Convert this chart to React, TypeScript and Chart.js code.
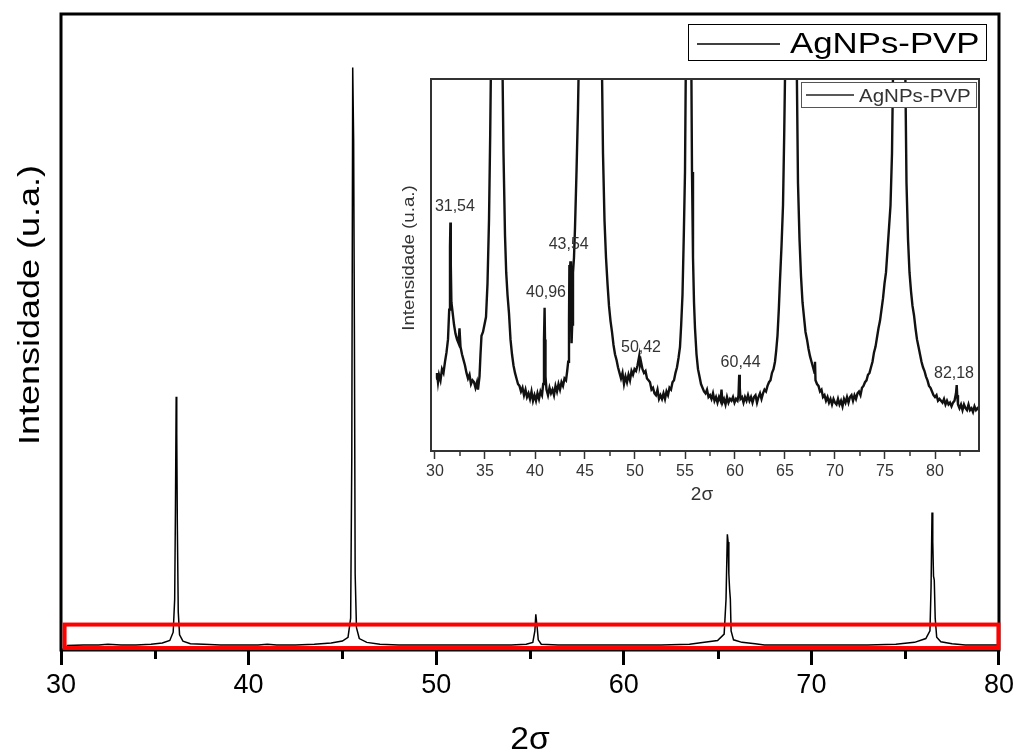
import React, { useEffect, useRef } from "react";
import { Chart, registerables } from "chart.js";

Chart.register(...registerables);

const FONT = '"Liberation Sans", Arial, Helvetica, sans-serif';

// ---------- main pattern ----------
const seriesName = "AgNPs-PVP";
const xTitle = "2σ";
const yTitle = "Intensidade (u.a.)";

const mainTwoTheta = [
  30.3, 31.2, 32.0, 32.5, 33.2, 34.0, 34.8, 35.4, 35.8, 35.98, 36.06, 36.1, 36.14, 36.17, 36.2, 36.25,
  36.32, 36.5, 36.9, 37.6, 38.5, 39.5, 40.5, 41.0, 41.5, 42.5, 43.5, 44.4, 45.0, 45.3, 45.44, 45.5,
  45.55, 45.6, 45.64, 45.68, 45.75, 45.9, 46.3, 47.0, 48.0, 49.0, 50.0, 51.0, 52.0, 53.0, 54.0, 54.8,
  55.15, 55.26, 55.31, 55.35, 55.39, 55.44, 55.6, 56.5, 58.0, 60.0, 62.0, 63.5, 64.3, 65.0, 65.35,
  65.45, 65.52, 65.56, 65.6, 65.64, 65.68, 65.72, 65.85, 66.3, 67.0, 67.5, 69.0, 71.0, 73.0, 74.5,
  75.5, 76.1, 76.32, 76.38, 76.43, 76.47, 76.51, 76.55, 76.6, 76.68, 76.9, 77.5, 78.2, 79.5, 80.0,
];
const mainIntensity = [
  0.7, 0.8, 0.8, 0.9, 0.8, 0.8, 0.9, 1.1, 1.5, 2.8, 8, 22, 39.8, 34, 20, 6,
  2.4, 1.4, 1.0, 0.9, 0.8, 0.8, 0.8, 0.9, 0.8, 0.8, 0.9, 1.1, 1.4, 2.0, 5, 30,
  91.6, 80, 50, 12, 3.5, 1.8, 1.2, 0.9, 0.8, 0.8, 0.8, 0.8, 0.8, 0.8, 0.8, 0.9,
  1.2, 3.0, 5.6, 4.4, 3.3, 1.6, 0.9, 0.8, 0.8, 0.8, 0.8, 0.9, 1.2, 1.5, 2.5,
  8, 18.2, 17, 12, 9.6, 8, 3, 1.6, 1.2, 1.0, 0.8, 0.8, 0.8, 0.8, 0.9,
  1.2, 1.8, 3, 10, 21.6, 17, 11.6, 11, 5, 2, 1.3, 1.0, 0.8, 0.8, 0.8,
];
const mainMajorTicks = [30, 40, 50, 60, 70, 80];
const mainMinorTicks = [35, 45, 55, 65, 75];
const zoomBoxX = [30.19, 79.97];
const zoomBoxY = [0.31, 4.0];

// ---------- inset pattern ----------
const insetTwoTheta = [
  30.1, 30.2, 30.3, 30.4, 30.55, 30.7, 30.85, 31.0, 31.15, 31.3, 31.42, 31.5, 31.54, 31.58, 31.64, 31.75,
  31.9, 32.05, 32.2, 32.35, 32.45, 32.55, 32.7, 32.85, 33.0, 33.15, 33.3, 33.45, 33.6, 33.75, 33.9, 34.05,
  34.2, 34.3, 34.45, 34.55, 34.65, 34.8, 34.95, 35.1, 35.25, 35.4, 35.52, 35.62, 36.2, 36.72, 36.85, 37.0,
  37.12, 37.25, 37.4, 37.55, 37.7, 37.85, 38.0, 38.15, 38.3, 38.45, 38.6, 38.75, 38.9, 39.05, 39.2, 39.35,
  39.5, 39.65, 39.8, 39.95, 40.1, 40.25, 40.4, 40.55, 40.7, 40.82, 40.9, 40.96, 41.0, 41.05, 41.15, 41.3,
  41.45, 41.6, 41.75, 41.9, 42.05, 42.2, 42.35, 42.5, 42.65, 42.8, 42.95, 43.1, 43.22, 43.32, 43.4, 43.44,
  43.5, 43.54, 43.6, 43.66, 43.72, 43.8, 43.9, 44.0, 44.15, 44.3, 44.45, 45.5, 46.64, 46.8, 46.95, 47.1,
  47.25, 47.4, 47.55, 47.7, 47.85, 48.0, 48.15, 48.3, 48.45, 48.6, 48.75, 48.9, 49.05, 49.2, 49.35, 49.5,
  49.65, 49.8, 49.95, 50.1, 50.25, 50.35, 50.42, 50.5, 50.6, 50.75, 50.9, 51.05, 51.2, 51.35, 51.5, 51.65,
  51.8, 51.95, 52.1, 52.25, 52.4, 52.55, 52.7, 52.85, 53.0, 53.15, 53.3, 53.45, 53.6, 53.75, 53.9, 54.05,
  54.2, 54.35, 54.5, 54.62, 54.75, 54.88, 55.0, 55.1, 55.35, 55.62, 55.7, 55.8, 55.9, 56.0, 56.15, 56.3,
  56.45, 56.6, 56.75, 56.9, 57.05, 57.2, 57.35, 57.5, 57.65, 57.8, 57.95, 58.1, 58.25, 58.4, 58.55, 58.65,
  58.75, 58.9, 59.05, 59.2, 59.35, 59.5, 59.65, 59.8, 59.95, 60.1, 60.25, 60.35, 60.42, 60.48, 60.55, 60.7,
  60.85, 61.0, 61.15, 61.3, 61.45, 61.6, 61.75, 61.9, 62.05, 62.2, 62.35, 62.5, 62.65, 62.8, 62.95, 63.1,
  63.25, 63.4, 63.55, 63.7, 63.85, 64.0, 64.12, 64.25, 64.38, 64.5, 64.65, 64.8, 64.92, 65.05, 65.6, 66.15,
  66.3, 66.45, 66.6, 66.75, 66.9, 67.05, 67.2, 67.35, 67.5, 67.65, 67.8, 67.95, 68.0, 68.05, 68.2, 68.35,
  68.5, 68.65, 68.8, 68.95, 69.1, 69.25, 69.4, 69.55, 69.7, 69.85, 70.0, 70.15, 70.3, 70.45, 70.6, 70.75,
  70.9, 71.05, 71.2, 71.35, 71.5, 71.65, 71.8, 71.95, 72.1, 72.25, 72.4, 72.55, 72.7, 72.85, 73.0, 73.15,
  73.3, 73.45, 73.6, 73.75, 73.9, 74.05, 74.2, 74.35, 74.5, 74.65, 74.8, 74.95, 75.1, 75.25, 75.4, 75.55,
  75.7, 75.84, 76.4, 77.0, 77.15, 77.3, 77.45, 77.6, 77.75, 77.9, 78.05, 78.2, 78.35, 78.5, 78.65, 78.8,
  78.95, 79.1, 79.25, 79.4, 79.55, 79.7, 79.85, 80.0, 80.15, 80.3, 80.45, 80.6, 80.75, 80.9, 81.05, 81.2,
  81.35, 81.5, 81.65, 81.8, 81.95, 82.1, 82.17, 82.22, 82.3, 82.45, 82.6, 82.75, 82.9, 83.05, 83.2, 83.35,
  83.5, 83.65, 83.8, 83.95, 84.1, 84.25, 84.4,
];
const insetIntensity = [
  19.5, 21.0, 18.5, 20.5, 19.0, 22.0, 21.0, 24.0, 26.5, 30.0, 38.0, 55.0, 61.4, 50.0, 40.0, 37.5,
  34.0, 31.5, 30.0, 29.0, 33.0, 28.0, 26.0, 24.5, 23.0, 21.0, 19.5, 20.5, 18.0, 19.0, 18.5, 17.0,
  18.5, 16.5, 20.0, 26.0, 31.0, 32.0, 34.0, 36.0, 45.0, 62.0, 85.0, 110, 400, 110, 80, 58,
  48, 42, 37.0, 30.0, 26.0, 23.0, 21.0, 19.5, 18.0, 17.5, 16.0, 17.0, 15.0, 16.5, 14.5, 15.5,
  14.0, 16.0, 13.5, 15.0, 13.5, 15.5, 14.0, 16.0, 15.0, 18.0, 30.0, 38.5, 30.0, 20.0, 16.5, 15.0,
  17.0, 15.5, 16.5, 15.0, 17.5, 16.0, 18.0, 16.5, 18.5, 17.5, 19.5, 19.0, 21.5, 24.0, 35.0, 50.0,
  48.0, 51.0, 40.0, 29.0, 34.0, 48.0, 52.0, 60.0, 75.0, 92.0, 115, 500, 115, 80, 62, 52,
  45, 39, 35, 32, 28.5, 26.0, 24.5, 22.5, 21.0, 19.5, 21.0, 18.0, 20.0, 18.5, 20.5, 19.0,
  21.5, 20.5, 22.0, 21.5, 23.0, 24.5, 25.5, 23.0, 24.0, 22.0, 21.0, 21.5, 19.5, 19.0, 18.5, 16.5,
  17.0, 15.5, 15.0, 16.5, 14.0, 15.0, 14.0, 15.5, 14.0, 16.0, 15.0, 17.0, 16.5, 18.5, 19.0, 21.0,
  22.5, 25.0, 28.0, 34.0, 42.0, 58.0, 75.0, 110, 400, 110, 75.0, 52.0, 40.0, 33.0, 26.0, 22.0,
  20.0, 18.0, 17.0, 16.0, 15.5, 16.5, 14.5, 15.0, 14.0, 15.5, 13.5, 14.5, 13.0, 14.5, 13.5, 16.5,
  13.0, 14.0, 12.5, 14.5, 13.0, 14.0, 13.5, 14.5, 13.0, 14.0, 13.5, 15.0, 20.5, 17.0, 14.0, 14.5,
  13.0, 14.5, 13.5, 15.0, 13.5, 14.5, 13.0, 14.5, 15.0, 13.0, 14.5, 15.5, 14.0, 15.5, 16.5, 16.0,
  17.5, 18.5, 19.0, 21.0, 22.0, 24.0, 27.0, 31.0, 38.0, 46.0, 55.0, 66.0, 85.0, 110, 400, 110,
  72, 57, 47, 40, 36, 32, 30, 27.5, 25.5, 24.0, 22.5, 21.0, 24.0, 19.0, 18.0, 17.5,
  16.0, 16.5, 14.5, 15.0, 13.5, 14.5, 13.0, 14.0, 12.5, 14.0, 13.0, 12.5, 14.0, 12.5, 13.5, 12.0,
  14.0, 13.0, 14.5, 13.0, 14.5, 15.0, 13.5, 15.0, 14.0, 15.5, 16.0, 15.0, 17.0, 17.5, 18.5, 19.0,
  20.5, 21.0, 22.5, 24.0, 26.5, 28.0, 30.5, 33.0, 35.0, 38.0, 41.0, 45.0, 48.0, 54.0, 60.0, 66.0,
  80.0, 110, 400, 110, 72, 57, 48, 43, 39, 36.5, 33.0, 30.0, 28.0, 26.0, 24.0, 22.5,
  21.5, 20.0, 19.0, 17.5, 17.0, 16.0, 15.0, 14.5, 15.0, 13.5, 14.0, 13.5, 13.0, 14.0, 12.5, 13.5,
  12.5, 13.0, 12.0, 13.0, 13.5, 15.5, 17.7, 15.0, 12.5, 11.5, 12.5, 11.0, 12.5, 11.5, 11.0, 12.5,
  11.0, 11.5, 10.5, 12.0, 11.0, 11.5, 11.0,
];
const insetMinorTicks = [32.5, 37.5, 42.5, 47.5, 52.5, 57.5, 62.5, 67.5, 72.5, 77.5, 82.5];
const peakLabels = ["31,54", "40,96", "43,54", "50,42", "60,44", "82,18"];
const peakLabelX = [31.99, 41.1, 43.37, 50.6, 60.56, 81.9];
const peakLabelY = [64.5, 41.4, 54.2, 26.6, 22.7, 19.7];

function stretchedText(
  ctx: CanvasRenderingContext2D,
  text: string,
  x: number,
  y: number,
  size: number,
  sx: number,
  align: CanvasTextAlign,
  rot = 0,
  color = "#000"
) {
  ctx.save();
  ctx.translate(x, y);
  if (rot) ctx.rotate(rot);
  ctx.scale(sx, 1);
  ctx.font = `${size}px ${FONT}`;
  ctx.fillStyle = color;
  ctx.textAlign = align;
  ctx.textBaseline = "alphabetic";
  ctx.fillText(text, 0, 0);
  ctx.restore();
}

const mainDecor = {
  id: "mainDecor",
  afterDraw(chart: any) {
    const { ctx, chartArea, scales } = chart;
    const { left, right, top, bottom } = chartArea;
    const x = scales.x;
    const y = scales.y;
    ctx.save();
    ctx.strokeStyle = "#000";
    ctx.lineWidth = 3;
    ctx.strokeRect(left, top, right - left, bottom - top);
    for (const v of mainMinorTicks) {
      const px = Math.round(x.getPixelForValue(v)) + 0.5;
      ctx.beginPath();
      ctx.moveTo(px, bottom);
      ctx.lineTo(px, bottom + 9);
      ctx.stroke();
    }
    // red highlight box
    const bx0 = x.getPixelForValue(zoomBoxX[0]);
    const bx1 = x.getPixelForValue(zoomBoxX[1]);
    const by0 = y.getPixelForValue(zoomBoxY[1]);
    const by1 = y.getPixelForValue(zoomBoxY[0]);
    ctx.strokeStyle = "#ff0000";
    ctx.lineWidth = 4;
    ctx.strokeRect(bx0, by0, bx1 - bx0, by1 - by0);
    // legend
    ctx.strokeStyle = "#000";
    ctx.lineWidth = 1;
    ctx.strokeRect(688.5, 24.5, 298, 36);
    ctx.lineWidth = 1.5;
    ctx.beginPath();
    ctx.moveTo(697, 44);
    ctx.lineTo(780, 44);
    ctx.stroke();
    stretchedText(ctx, seriesName, 790, 53, 29, 1.2, "left");
    // axis titles
    stretchedText(ctx, yTitle, 39, 305, 30, 1.2, "center", -Math.PI / 2);
    stretchedText(ctx, xTitle, (left + right) / 2, 749, 32, 1.05, "center");
    ctx.restore();
  },
};

const insetDecor = {
  id: "insetDecor",
  afterDraw(chart: any) {
    const { ctx, chartArea, scales } = chart;
    const { left, right, top, bottom } = chartArea;
    const x = scales.x;
    const y = scales.y;
    ctx.save();
    ctx.strokeStyle = "#333";
    ctx.lineWidth = 2;
    ctx.strokeRect(left, top, right - left, bottom - top);
    ctx.lineWidth = 1.5;
    for (const v of insetMinorTicks) {
      const px = x.getPixelForValue(v);
      ctx.beginPath();
      ctx.moveTo(px, bottom);
      ctx.lineTo(px, bottom + 5);
      ctx.stroke();
    }
    peakLabels.forEach((t, i) => {
      stretchedText(ctx, t, x.getPixelForValue(peakLabelX[i]), y.getPixelForValue(peakLabelY[i]), 16, 1, "center", 0, "#333");
    });
    // legend
    ctx.fillStyle = "#fff";
    ctx.fillRect(411, 12, 175, 25);
    ctx.strokeStyle = "#555";
    ctx.lineWidth = 1;
    ctx.strokeRect(411.5, 12.5, 175, 25);
    ctx.strokeStyle = "#222";
    ctx.lineWidth = 1.5;
    ctx.beginPath();
    ctx.moveTo(416, 25);
    ctx.lineTo(464, 25);
    ctx.stroke();
    stretchedText(ctx, seriesName, 469, 32, 19, 1.08, "left", 0, "#333");
    // titles
    stretchedText(ctx, yTitle, 24, 188, 17, 1.1, "center", -Math.PI / 2, "#333");
    stretchedText(ctx, xTitle, 312, 430, 19, 1, "center", 0, "#333");
    ctx.restore();
  },
};

export default function App() {
  const mainRef = useRef<HTMLCanvasElement>(null);
  const insetRef = useRef<HTMLCanvasElement>(null);

  useEffect(() => {
    document.body.style.margin = "0";
    const main = new Chart(mainRef.current as HTMLCanvasElement, {
      type: "line",
      data: {
        datasets: [
          {
            label: seriesName,
            data: mainTwoTheta.map((v, i) => ({ x: v, y: mainIntensity[i] })),
            borderColor: "#000",
            borderWidth: 1.5,
            pointRadius: 0,
            tension: 0,
            clip: 0,
          },
        ],
      },
      options: {
        animation: false,
        responsive: false,
        events: [],
        layout: { padding: { top: 14, right: 18, left: 0, bottom: 0 } },
        plugins: { legend: { display: false }, tooltip: { enabled: false } },
        scales: {
          x: {
            type: "linear",
            min: 30,
            max: 80,
            afterFit: (s: any) => {
              s.height = 101;
            },
            border: { display: false },
            grid: { drawOnChartArea: false, drawTicks: true, tickLength: 15, tickWidth: 3, tickColor: "#000" },
            ticks: {
              stepSize: 10,
              padding: 4,
              color: "#000",
              font: { family: FONT, size: 27 },
              maxRotation: 0,
              autoSkip: false,
              includeBounds: false,
              callback: (v: any) => (mainMajorTicks.includes(Number(v)) ? String(v) : ""),
            },
          },
          y: {
            type: "linear",
            min: 0,
            max: 100,
            afterFit: (s: any) => {
              s.width = 61;
            },
            border: { display: false },
            grid: { display: false },
            ticks: { display: false },
          },
        },
      },
      plugins: [mainDecor],
    } as any);

    const inset = new Chart(insetRef.current as HTMLCanvasElement, {
      type: "line",
      data: {
        datasets: [
          {
            label: seriesName,
            data: insetTwoTheta.map((v, i) => ({ x: v, y: insetIntensity[i] })),
            borderColor: "#111",
            borderWidth: 2.4,
            pointRadius: 0,
            tension: 0,
            clip: 0,
          },
        ],
      },
      options: {
        animation: false,
        responsive: false,
        events: [],
        layout: { padding: { top: 9, right: 11, left: 0, bottom: 0 } },
        plugins: { legend: { display: false }, tooltip: { enabled: false } },
        scales: {
          x: {
            type: "linear",
            min: 29.6,
            max: 84.4,
            afterFit: (s: any) => {
              s.height = 64;
            },
            border: { display: false },
            grid: { drawOnChartArea: false, drawTicks: true, tickLength: 8, tickWidth: 1.5, tickColor: "#333" },
            ticks: {
              stepSize: 5,
              padding: 3,
              color: "#333",
              font: { family: FONT, size: 16 },
              maxRotation: 0,
              autoSkip: false,
              includeBounds: false,
            },
          },
          y: {
            type: "linear",
            min: 0,
            max: 100,
            afterFit: (s: any) => {
              s.width = 41;
            },
            border: { display: false },
            grid: { display: false },
            ticks: { display: false },
          },
        },
      },
      plugins: [insetDecor],
    } as any);

    return () => {
      main.destroy();
      inset.destroy();
    };
  }, []);

  return (
    <div style={{ position: "relative", width: 1018, height: 751, background: "#fff", overflow: "hidden" }}>
      <canvas ref={mainRef} width={1018} height={751} style={{ position: "absolute", left: 0, top: 0, width: 1018, height: 751 }} />
      <canvas ref={insetRef} width={600} height={445} style={{ position: "absolute", left: 390, top: 70, width: 600, height: 445 }} />
    </div>
  );
}
